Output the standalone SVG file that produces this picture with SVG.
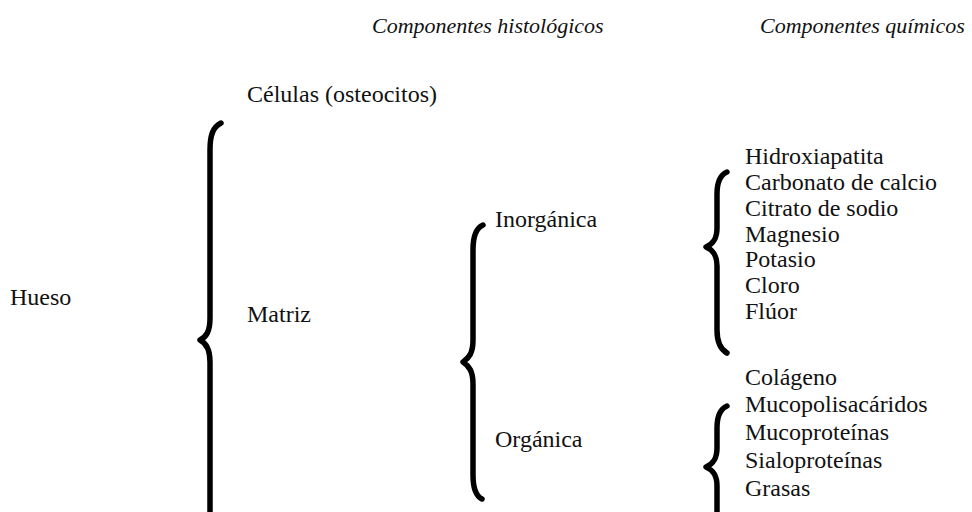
<svg xmlns="http://www.w3.org/2000/svg" width="972" height="512" viewBox="0 0 972 512">
<style>
text{font-family:"Liberation Serif","Times New Roman",serif;font-size:24px;fill:#111}
.h{font-style:italic;font-size:22px}
.br{fill:none;stroke:#000;stroke-width:5.5;stroke-linecap:round;stroke-linejoin:round}
</style>
<rect width="972" height="512" fill="#fff"/>
<g id="headers">
<text class="h" x="372" y="33">Componentes histológicos</text>
<text class="h" x="760" y="33">Componentes químicos</text>
</g>
<g id="connectors">
<path class="br" d="M221,123 C213,127 210,135 210,150 L210,318 C210,332 206,337 200,340 C206,343 210,349 210,362 L210,530"/>
<path class="br" d="M483,225 C476,228 473,236 473,250 L473,340 C473,353 469,358 463,362 C469,366 473,371 473,384 L473,475 C473,489 476,496 482,499"/>
<path class="br" d="M727,172 C720,175 717,182 717,194 L717,228 C717,239 713,244 706,247 C713,250 717,255 717,266 L717,330 C717,342 720,349 727,353"/>
<path class="br" d="M727,406 C720,409 717,416 717,428 L717,448 C717,459 713,464 706,467 C713,470 717,475 717,486 L717,530"/>
</g>
<g id="hueso"><text x="10" y="305">Hueso</text></g>
<g id="celulas"><text x="247" y="102">Células (osteocitos)</text></g>
<g id="matriz"><text x="247" y="322">Matriz</text></g>
<g id="inorganica"><text x="495" y="227">Inorgánica</text></g>
<g id="organica"><text x="495" y="447">Orgánica</text></g>
<g id="quimicos-inorganicos">
<text x="745" y="164">Hidroxiapatita</text>
<text x="745" y="190">Carbonato de calcio</text>
<text x="745" y="216">Citrato de sodio</text>
<text x="745" y="241.5">Magnesio</text>
<text x="745" y="267">Potasio</text>
<text x="745" y="293">Cloro</text>
<text x="745" y="319">Flúor</text>
</g>
<g id="quimicos-organicos">
<text x="745" y="385">Colágeno</text>
<text x="745" y="412">Mucopolisacáridos</text>
<text x="745" y="440">Mucoproteínas</text>
<text x="745" y="468">Sialoproteínas</text>
<text x="745" y="496">Grasas</text>
</g>
</svg>
